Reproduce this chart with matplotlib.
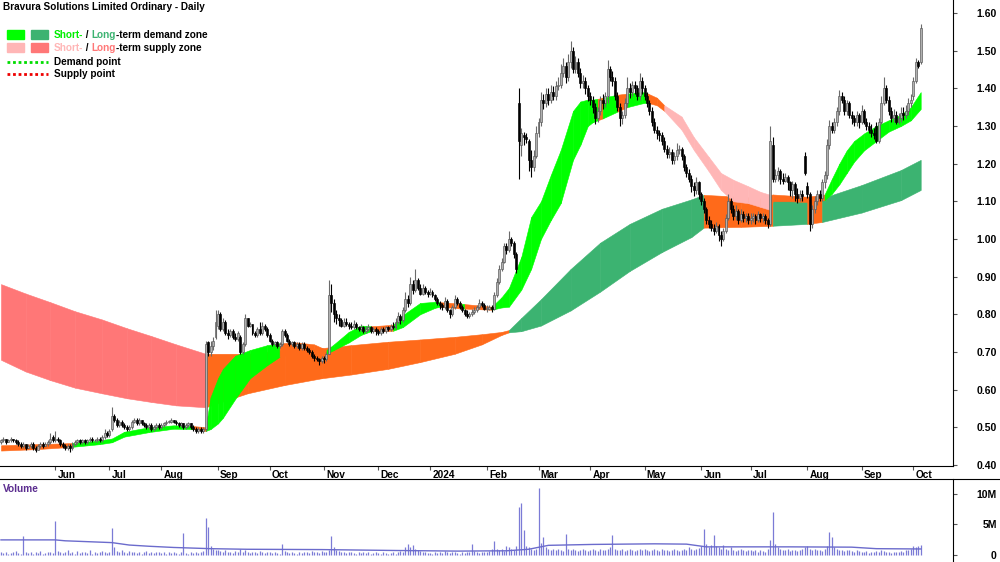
import numpy as np
import pandas as pd
import matplotlib
matplotlib.use("Agg")
import matplotlib.pyplot as plt
from matplotlib.patches import Rectangle
from matplotlib.lines import Line2D

plt.rcParams["font.family"] = ["Liberation Sans", "DejaVu Sans"]

# trading days shown on the chart
dates = pd.bdate_range("2023-05-02", "2024-10-04")

# daily prices in cents, one line per month (May 2023 ... Oct 2024)
opens = [
    46, 46.5, 47, 46, 46.5, 47, 46.5, 46, 45.5, 45, 45.5, 44.5, 45, 45.5, 44.5, 44, 45, 45.5, 45, 45.5, 46, 47.5,
    46.5, 47, 46.5, 45.5, 45, 44.5, 45, 44.5, 45.5, 46, 46.5, 46, 46.5, 46, 46.5, 47, 46.5, 46.5, 47, 46.5, 47.5, 48.5,
    48, 49.5, 53, 52, 50.5, 51.5, 50.5, 50, 49.5, 50, 51.5, 52, 51, 52, 51, 50.5, 50, 50.5, 49.5, 50, 50.5,
    50, 50.5, 51, 51.5, 51.5, 52, 51.5, 51, 50.5, 51, 50, 50.5, 51, 50, 49.5, 49, 49.5, 49, 49.5, 72.5, 70, 71.5, 74,
    77, 80, 76, 78, 75, 74.5, 75.5, 74, 73.5, 74, 70, 72, 79, 77, 77.5, 75, 74.5, 76, 75, 77, 76,
    74.5, 73, 72, 72.5, 71.5, 72, 75.5, 74.5, 73, 72, 72.5, 71.5, 72, 71, 72, 71, 70.5, 70, 69, 68.5, 68, 67.5,
    68.5, 68, 69.5, 85, 83, 80, 79, 78.5, 77, 78, 77.5, 77, 76.5, 77.5, 76.5, 76, 76.5, 75.5, 76, 76.5, 75.5, 76,
    75.5, 75, 76, 75.5, 76.5, 76, 77, 76.5, 78, 79.5, 78.5, 81, 84, 83, 88, 86.5, 89, 87, 85.5, 87, 86,
    85.5, 86, 85, 84, 83, 82.5, 82, 83.5, 81, 80, 82, 84, 83, 82, 81, 80, 79.5, 80, 80.5, 81, 82, 83, 82.5,
    81.5, 81.5, 82, 81.5, 85, 88.5, 92, 94, 98, 97, 100, 99, 96, 136, 125, 127.5, 127, 126, 121, 119, 122,
    128, 131, 137, 136, 138.5, 137, 139, 138, 140.5, 141, 144, 146, 143, 147, 150, 145, 147, 144, 141.5, 142, 140,
    138, 137, 135, 132, 134, 137, 136, 138, 145, 143, 142, 138, 135, 132, 133, 136, 140, 139, 141, 140, 138, 142,
    140, 138, 136, 134, 131, 129, 128, 127.5, 126, 124, 122.5, 123, 121, 122, 123.5, 124, 122, 119, 117.5, 116, 114, 113, 115,
    112, 110, 108, 105, 104, 103, 102, 103.5, 101, 100, 102, 105.5, 110, 108, 106, 107.5, 105, 106.5, 105.5, 106,
    105, 105.5, 106, 105, 106.5, 105.5, 106, 105, 104, 125, 116, 117, 118, 116, 115.5, 116.5, 115, 113, 114.5, 112, 111, 112, 122,
    114, 112, 104, 108, 110, 112, 111, 115, 117, 125, 130, 129, 131, 134, 138, 137, 134, 136, 133, 132, 131, 133,
    131, 134, 131, 130, 129, 128, 130, 126, 131, 136, 140, 137, 134, 132, 133, 131, 132, 133.5, 133, 134, 136,
    138, 142, 147, 147,
]
highs = [
    47, 47.5, 47, 47, 47.5, 47, 47, 46.5, 46, 46, 45.5, 45.5, 46, 46, 45, 45.5, 46, 46, 46, 46.5, 48.5, 48,
    49, 47.5, 47, 46, 45.5, 45.5, 45.5, 46, 46.5, 47, 47, 47, 47, 47, 47.5, 47.5, 47, 47.5, 47.5, 48, 49.5, 49,
    49.5, 55.5, 53.5, 52.5, 52, 52, 51, 50.5, 50.5, 52, 52.5, 52.5, 52.5, 52, 51.5, 51, 51, 51, 50.5, 51, 51,
    51, 51.5, 52, 52, 52.5, 52, 52, 51.5, 51.5, 51, 51, 51.5, 51, 50.5, 50, 50, 50, 50, 73, 73, 73, 74, 81,
    81, 80.5, 79, 78.5, 76, 76, 76, 75, 75.5, 74.5, 72.5, 80, 79, 78, 77.5, 75.5, 76.5, 78, 78, 77.5, 76.5,
    75, 73.5, 73, 73, 72.5, 76, 76, 75, 73.5, 73, 73, 72.5, 72.5, 72.5, 72.5, 71.5, 71, 70.5, 69.5, 69, 68.5, 69,
    69, 70, 89, 88, 84, 81, 80, 79, 79, 79, 78, 78, 78.5, 78, 77, 77.5, 77, 77, 77.5, 77, 76.5, 76.5,
    76, 76.5, 76.5, 77, 77, 77.5, 78, 79, 80.5, 80, 82, 86, 85, 90, 89, 92, 89.5, 88, 88, 87.5, 86.5,
    87, 86.5, 85.5, 84.5, 83.5, 83, 84.5, 84, 81.5, 82.5, 85, 84.5, 83.5, 82.5, 81.5, 81, 80.5, 81.5, 82, 82.5, 84, 83.5, 83,
    82.5, 82.5, 82.5, 86, 89.5, 93, 95, 99, 99, 102, 100.5, 99.5, 96.5, 140, 129.5, 128.5, 128, 126.5, 123.5, 123.5, 130,
    132, 139, 138.5, 140, 140, 141, 140.5, 142, 143, 146.5, 148, 147, 149, 152.5, 151, 148.5, 148, 145.5, 143.5, 143, 141,
    139, 138, 136, 135, 138, 138.5, 139, 147.5, 146, 144.5, 143, 139, 136, 134, 137.5, 143, 141.5, 142, 142, 141, 144, 143,
    141, 139, 137, 135, 132, 130, 129, 128.5, 127, 125, 124.5, 124, 123, 125.5, 125, 124.5, 122.5, 120, 118.5, 117, 115, 116.5, 115.5,
    112.5, 111, 108.5, 106, 105, 104, 104.5, 104, 102, 103, 106.5, 112, 111, 109, 109, 108, 108, 107.5, 107, 107,
    107, 107, 106.5, 107.5, 107, 107, 106.5, 105.5, 130, 127, 118.5, 119, 118.5, 117.5, 117.5, 117, 115.5, 115.5, 115, 113.5, 113, 113, 123,
    115, 112.5, 109, 111.5, 113, 113, 116, 118, 126.5, 131.5, 131, 132, 135, 139.5, 139, 138, 137, 136.5, 134, 133, 134, 133.5,
    135.5, 134.5, 132, 131, 130.5, 129.5, 131, 132, 138, 143, 141, 138, 135, 134.5, 134, 133.5, 135, 135, 135.5, 137.5, 138.5,
    143, 148, 147.5, 157,
]
lows = [
    45.5, 46, 45.5, 46, 46, 46, 45.5, 45, 44.5, 44.5, 44, 44.5, 44.5, 44, 43.5, 44, 44.5, 44.5, 45, 45, 45.5, 46,
    46, 46, 45, 44.5, 44, 44, 43.5, 44, 45, 45.5, 45.5, 45.5, 45.5, 45.5, 46, 46, 46, 46, 46, 46, 47, 47.5,
    47.5, 49, 51.5, 50, 50, 50, 49.5, 49, 49, 49.5, 51, 50.5, 50.5, 50.5, 50, 49.5, 49.5, 49, 49, 49.5, 49.5,
    49.5, 50, 50.5, 51, 51, 51, 50.5, 50, 50, 49.5, 49.5, 50, 49.5, 49, 48.5, 48.5, 48.5, 48.5, 49, 69, 69, 70.5, 73.5,
    76, 75.5, 75.5, 74.5, 73.5, 74, 73.5, 73, 73, 69.5, 69.5, 71.5, 76.5, 76.5, 74.5, 74, 74, 74.5, 74.5, 75.5, 74,
    72.5, 71.5, 71.5, 71, 71, 71.5, 74, 72.5, 71.5, 71.5, 71, 71, 70.5, 70.5, 70.5, 70, 69.5, 68.5, 67.5, 67.5, 66.5, 67,
    67, 67.5, 69.5, 80.5, 78, 77.5, 77, 76.5, 76.5, 77, 76, 76, 76, 76, 75.5, 75.5, 75, 75, 75.5, 75, 75, 74.5,
    74.5, 74.5, 75, 75, 75.5, 75.5, 76, 76, 77.5, 77.5, 78, 80.5, 82, 82.5, 85.5, 86, 86.5, 85, 85, 85.5, 84.5,
    85, 84.5, 83.5, 82.5, 81.5, 81, 81.5, 80.5, 79, 79.5, 81.5, 82.5, 81.5, 80.5, 79.5, 79, 79, 79.5, 80, 80.5, 81.5, 82, 81,
    80.5, 81, 80.5, 81, 84.5, 88, 91.5, 93.5, 96, 96.5, 98, 95, 91, 116, 122, 125, 125.5, 118, 116.5, 118, 121.5,
    127, 130, 134.5, 135, 135.5, 136, 137, 137, 139.5, 140, 143, 141.5, 142, 145.5, 144, 144, 143, 140, 140, 138.5, 136.5,
    135.5, 133.5, 130.5, 131, 133, 134.5, 135, 136, 142, 140.5, 137, 134, 130, 130.5, 132, 135, 137.5, 138, 138.5, 137, 137, 138.5,
    137, 135, 133, 130, 128, 126.5, 126, 125, 123, 121.5, 121.5, 120, 120, 121, 122.5, 121, 118, 116.5, 115, 112.5, 111.5, 112, 110.5,
    109, 107, 104, 103, 102, 101, 101.5, 99.5, 98, 99.5, 101.5, 105, 107, 105, 105, 104, 104.5, 104.5, 104.5, 104,
    104, 104.5, 104, 104.5, 104.5, 104.5, 104, 103, 103.5, 115, 115, 115.5, 114.5, 114.5, 115, 113, 111.5, 111, 110, 109.5, 110, 110, 117,
    111, 102, 103, 107, 109, 110, 110, 113.5, 116, 124, 128, 128, 130, 133, 136, 133, 133, 132, 130.5, 130, 130, 129.5,
    130.5, 130.5, 129, 128, 127, 126.5, 125.5, 125.5, 130.5, 135.5, 136, 133, 131, 131, 130.5, 130.5, 131, 131.5, 132, 133, 135,
    137, 141.5, 145.5, 146.5,
]
closes = [
    46.5, 47, 46, 46.5, 47, 46.5, 46, 45.5, 45, 45.5, 44.5, 45, 45.5, 44.5, 44, 45, 45.5, 45, 45.5, 46, 47, 46.5,
    47, 46.5, 45.5, 45, 44.5, 45, 44.5, 45.5, 46, 46.5, 46, 46.5, 46, 46.5, 47, 46.5, 46.5, 47, 46.5, 47.5, 48.5, 48,
    49, 53, 52, 50.5, 51.5, 50.5, 50, 49.5, 50, 51.5, 52, 51, 52, 51, 50.5, 50, 50.5, 49.5, 50, 50.5, 50,
    50.5, 51, 51.5, 51.5, 52, 51.5, 51, 50.5, 51, 50, 50.5, 51, 50, 49.5, 49, 49.5, 49, 49.5, 72, 70, 71.5, 73, 78,
    80, 76, 78, 75, 74.5, 75.5, 74, 73.5, 75, 70, 72, 79, 77, 77.5, 75, 74.5, 76, 75, 77, 76, 74.5,
    73, 72, 72.5, 71.5, 72, 75.5, 74.5, 73, 72, 72.5, 71.5, 72, 71, 72, 71, 70.5, 70, 69, 68.5, 68, 67.5, 68.5,
    68, 69.5, 85, 83, 80, 79, 78.5, 77, 78, 77.5, 77, 76.5, 77.5, 76.5, 76, 76.5, 75.5, 76, 76.5, 75.5, 76, 75.5,
    75, 76, 75.5, 76.5, 76, 77, 76.5, 78, 79.5, 78.5, 81, 84, 83, 88, 86.5, 89, 87, 85.5, 87, 86, 85.5,
    86, 85, 84, 83, 82.5, 82, 83.5, 81, 80, 82, 84, 83, 82, 81, 80, 79.5, 80, 80.5, 81, 82, 83, 82.5, 81.5,
    81.5, 82, 81.5, 85, 88.5, 92, 94, 98, 97, 100, 99, 96, 92, 126, 128, 127, 126.5, 121, 119, 122, 128,
    131, 137, 136, 138.5, 137, 139, 138, 140.5, 141, 144, 146, 143, 147, 150, 145, 147, 144, 141.5, 142, 140, 138,
    137, 135, 132, 134, 137, 136, 138, 145, 143, 142, 138, 135, 132, 133, 136, 140, 139, 141, 140, 138, 142, 140,
    138, 136, 134, 131, 129, 128, 127.5, 126, 124, 122.5, 123, 121, 122, 123.5, 124, 122, 119, 117.5, 116, 114, 113, 115, 112,
    110, 108, 105, 104, 103, 102, 103.5, 101, 100, 102, 105.5, 110, 108, 106, 107.5, 105, 106.5, 105.5, 106, 105,
    105.5, 106, 105, 106.5, 105.5, 106, 105, 104, 126, 116, 117, 118, 116, 115.5, 116.5, 115, 113, 114.5, 112, 111, 112, 111.5, 117.5,
    112, 104, 108, 110, 112, 111, 115, 117, 125, 130, 129, 131, 134, 138, 137, 134, 136, 133, 132, 131, 133, 131,
    134, 131, 130, 129, 128, 127.5, 126, 131, 136, 140, 137, 134, 132, 133, 131, 132, 133.5, 133, 134, 136, 137,
    142, 147, 146, 156,
]

# daily volume in units of 0.1M shares
volume = [
    4, 3, 5, 2, 3, 4, 6, 3, 2, 31, 4, 3, 5, 2, 4, 3, 6, 2, 3, 4, 5, 3,
    55, 6, 4, 3, 5, 8, 3, 4, 2, 6, 3, 5, 4, 3, 7, 2, 4, 3, 5, 6, 4, 3,
    5, 44, 12, 6, 5, 8, 4, 3, 6, 5, 4, 3, 5, 2, 4, 6, 3, 4, 3, 5, 4,
    3, 4, 2, 5, 3, 4, 3, 2, 4, 36, 3, 2, 4, 3, 5, 3, 4, 6, 61, 45, 15, 9, 7,
    8, 6, 5, 7, 4, 5, 3, 6, 4, 9, 5, 8, 4, 3, 5, 4, 3, 6, 4, 3, 5,
    4, 3, 5, 3, 2, 18, 6, 4, 3, 5, 3, 2, 4, 3, 5, 4, 3, 6, 5, 4, 3, 6,
    5, 4, 8, 31, 12, 8, 6, 5, 4, 3, 5, 4, 3, 2, 4, 3, 5, 3, 4, 2, 3, 4,
    3, 2, 4, 3, 2, 3, 4, 2, 5, 6, 4, 13, 17, 12, 16, 10, 8, 6, 5, 4, 3,
    3, 2, 4, 3, 5, 3, 6, 4, 3, 5, 4, 3, 2, 4, 3, 5, 4, 18, 6, 4, 3, 5, 4,
    5, 6, 9, 23, 10, 8, 9, 6, 15, 12, 9, 8, 14, 78, 85, 40, 15, 12, 10, 8, 9,
    110, 20, 30, 12, 9, 8, 10, 7, 9, 8, 6, 35, 9, 8, 10, 7, 6, 8, 9, 7, 6,
    8, 9, 7, 6, 10, 8, 7, 9, 12, 33, 10, 8, 7, 9, 6, 8, 10, 7, 6, 8, 9, 7,
    9, 7, 6, 8, 10, 7, 6, 9, 8, 7, 6, 8, 10, 7, 6, 8, 9, 7, 12, 9, 8, 10, 11,
    14, 43, 18, 12, 16, 33, 15, 12, 10, 16, 9, 8, 12, 7, 6, 8, 9, 7, 6, 8,
    7, 6, 8, 5, 7, 6, 5, 9, 25, 70, 18, 12, 10, 8, 7, 9, 6, 8, 7, 6, 8, 9, 12,
    14, 10, 8, 9, 7, 8, 6, 10, 15, 38, 30, 12, 9, 8, 7, 6, 8, 7, 6, 5, 7, 6,
    5, 4, 6, 3, 5, 4, 6, 5, 7, 6, 4, 5, 3, 4, 5, 4, 6, 5, 7, 8, 9,
    15, 12, 14, 16,
]

# volume average line (millions), read at a few days
vol_avg_idx = [0, 22, 26, 45, 52, 60, 70, 85, 100, 130, 160, 185, 205, 214, 222, 240, 265, 278, 286, 320, 345, 355, 373]
vol_avg = [2.45, 2.45, 2.3, 2.0, 1.6, 1.4, 1.2, 1.0, 0.9, 0.85, 0.7, 0.6, 0.65, 0.9, 1.55, 1.7, 1.8, 1.75, 1.3, 1.3, 1.25, 1.0, 0.95]

# short-term zone: day index, lower / upper edge, state of the stretch that follows
st_idx = [0, 15, 29, 40, 45, 50, 60, 70, 78, 83, 85, 88, 90, 95, 101, 108, 113, 120, 127, 132, 135, 141, 146,
          150, 159, 163, 170, 176, 178, 187, 188, 199, 203, 206, 211, 215, 219, 223, 227, 232, 235, 238, 240,
          242, 244, 250, 254, 260, 262, 266, 269, 276, 281, 287, 292, 297, 303, 308, 312, 313, 320, 327, 334,
          337, 340, 343, 346, 350, 355, 360, 365, 369, 373]
st_lo = [0.438, 0.442, 0.448, 0.455, 0.46, 0.475, 0.487, 0.496, 0.495, 0.49, 0.495, 0.51, 0.525, 0.575, 0.63,
         0.665, 0.687, 0.70, 0.70, 0.695, 0.705, 0.725, 0.745, 0.755, 0.756, 0.766, 0.80, 0.817, 0.82, 0.815,
         0.815, 0.812, 0.818, 0.82, 0.865, 0.92, 1.0, 1.05, 1.095, 1.21, 1.25, 1.30, 1.31, 1.315, 1.32, 1.338,
         1.35, 1.36, 1.362, 1.355, 1.34, 1.29, 1.236, 1.18, 1.13, 1.10, 1.095, 1.085, 1.077, 1.10, 1.10, 1.098,
         1.103, 1.12, 1.145, 1.175, 1.205, 1.235, 1.26, 1.285, 1.30, 1.315, 1.345]
st_hi = [0.452, 0.455, 0.458, 0.465, 0.47, 0.488, 0.50, 0.505, 0.503, 0.50, 0.58, 0.63, 0.655, 0.69, 0.705,
         0.718, 0.723, 0.725, 0.72, 0.705, 0.72, 0.753, 0.77, 0.768, 0.772, 0.798, 0.83, 0.833, 0.832, 0.828,
         0.827, 0.82, 0.845, 0.87, 0.952, 1.058, 1.10, 1.17, 1.236, 1.34, 1.365, 1.37, 1.37, 1.372, 1.375, 1.383,
         1.386, 1.39, 1.387, 1.375, 1.355, 1.325, 1.27, 1.218, 1.175, 1.157, 1.14, 1.125, 1.117, 1.118, 1.115,
         1.112, 1.118, 1.16, 1.20, 1.235, 1.26, 1.28, 1.30, 1.315, 1.33, 1.35, 1.39]
st_state = ["n", "n", "d", "d", "d", "d", "d", "d", "n", "d", "d", "d", "d", "d", "d", "d", "n", "n", "n", "d",
            "d", "d", "d", "n", "d", "d", "d", "d", "n", "d", "n", "d", "d", "d", "d", "d", "d", "d", "d", "d",
            "d", "d", "d", "n", "d", "n", "d", "d", "n", "n", "s", "s", "s", "s", "s", "s", "s", "s", "n", "n",
            "n", "n", "d", "d", "d", "d", "d", "d", "d", "d", "d", "d", "d"]

# long-term zone
lt_idx = [0, 10, 20, 30, 41, 51, 61, 71, 83, 100, 115, 130, 142, 157, 170, 184, 195, 203, 206, 211, 219, 231,
          243, 255, 268, 280, 285, 300, 313, 327, 333, 349, 365, 373]
lt_lo = [0.679, 0.648, 0.625, 0.605, 0.59, 0.577, 0.567, 0.558, 0.553, 0.59, 0.612, 0.63, 0.64, 0.655, 0.673,
         0.695, 0.72, 0.745, 0.752, 0.755, 0.77, 0.81, 0.86, 0.915, 0.965, 1.005, 1.03, 1.032, 1.035, 1.04,
         1.045, 1.07, 1.103, 1.13]
lt_hi = [0.88, 0.855, 0.832, 0.808, 0.786, 0.763, 0.742, 0.72, 0.695, 0.695, 0.705, 0.71, 0.718, 0.727, 0.733,
         0.74, 0.747, 0.753, 0.758, 0.79, 0.84, 0.92, 0.99, 1.04, 1.08, 1.105, 1.117, 1.112, 1.105, 1.105, 1.108,
         1.143, 1.183, 1.21]
lt_state = ["s", "s", "s", "s", "s", "s", "s", "s", "n", "n", "n", "n", "n", "n", "n", "n", "n", "n", "d", "d",
            "d", "d", "d", "d", "d", "d", "n", "n", "d", "n", "d", "d", "d", "d"]

ST_COLORS = {"d": "#00ff00", "s": "#ffb6b6", "n": "#ff6a1a"}
LT_COLORS = {"d": "#3cb371", "s": "#ff7777", "n": "#ff6a1a"}

month_names = {1: "2024", 2: "Feb", 3: "Mar", 4: "Apr", 5: "May", 6: "Jun", 7: "Jul",
               8: "Aug", 9: "Sep", 10: "Oct", 11: "Nov", 12: "Dec"}


def draw_zone(ax, idx, lo, hi, state, colors, z):
    for k in range(len(idx) - 1):
        c = colors[state[k]]
        ax.fill_between(idx[k:k + 2], lo[k:k + 2], hi[k:k + 2], facecolor=c,
                        edgecolor=c, lw=0.4, zorder=z)


def draw_candles(ax, o, h, l, c):
    x = np.arange(len(c))
    up = c >= o
    dn = ~up
    ax.vlines(x[up], l[up], h[up], color="#6a6a6a", lw=0.8, zorder=4)
    ax.vlines(x[dn], l[dn], h[dn], color="black", lw=0.8, zorder=4)
    body = np.abs(c - o)
    body = np.where(body < 0.002, 0.002, body)
    bottom = np.minimum(o, c)
    ax.bar(x[up], body[up], bottom=bottom[up], width=0.8, color="#b0b0b0",
           edgecolor="#555555", lw=0.45, zorder=5)
    ax.bar(x[dn], body[dn], bottom=bottom[dn], width=0.8, color="black",
           edgecolor="black", lw=0.45, zorder=5)


def color_text(ax, fig, x, y, pieces, **kw):
    t = fig.text(x, y, pieces[0][0], color=pieces[0][1], va="bottom", **kw)
    for s, col in pieces[1:]:
        t = ax.annotate(s, xy=(1, 0), xycoords=t, color=col, va="bottom", ha="left",
                        annotation_clip=False, **kw)
    return t


def right_ticks(ax, ticks, labels):
    ax.set_yticks(ticks)
    ax.set_yticklabels(labels, fontweight="bold", fontsize=7.5)
    ax.yaxis.tick_right()
    ax.tick_params(axis="y", direction="out", length=3, pad=28.5, color="#555555")
    for lbl in ax.get_yticklabels():
        lbl.set_horizontalalignment("right")


def main():
    o = np.array(opens) / 100.0
    h = np.array(highs) / 100.0
    l = np.array(lows) / 100.0
    c = np.array(closes) / 100.0
    v = np.array(volume) / 10.0
    n = len(c)
    assert n == len(dates) == len(o) == len(h) == len(l) == len(v)

    W, H = 1000, 562
    fig = plt.figure(figsize=(W / 100, H / 100), dpi=100)
    ax = fig.add_axes([0, 1 - 466 / H, 953 / W, 466 / H])
    vax = fig.add_axes([0, 0, 953 / W, 83 / H])

    xlim = (-0.4, 386.1)

    # price panel
    draw_zone(ax, lt_idx, lt_lo, lt_hi, lt_state, LT_COLORS, 1)
    draw_zone(ax, st_idx, st_lo, st_hi, st_state, ST_COLORS, 2)
    draw_candles(ax, o, h, l, c)

    ax.set_xlim(*xlim)
    ax.set_ylim(0.397, 1.6345)
    ticks = np.round(np.arange(0.4, 1.61, 0.1), 2)
    right_ticks(ax, ticks, [f"{t:.2f}" for t in ticks])

    months = dates.month
    starts = [i for i in range(1, n) if months[i] != months[i - 1]]
    ax.set_xticks(starts)
    ax.tick_params(axis="x", direction="out", length=3, labelbottom=False, color="#555555")
    for i in starts:
        ax.text(i + 0.9, -9 / 466, month_names[dates[i].month], transform=ax.get_xaxis_transform(),
                ha="left", va="center", fontsize=7.3, fontweight="bold")

    for side in ["left", "top"]:
        ax.spines[side].set_visible(False)
    for side in ["right", "bottom"]:
        ax.spines[side].set_linewidth(0.8)

    # volume panel
    vax.vlines(np.arange(n), 0, v, color="#7b7bd6", lw=0.9)
    vax.plot(vol_avg_idx, vol_avg, color="#6b6bcc", lw=1.0)
    vax.set_xlim(*xlim)
    vax.set_ylim(-1.2, 12.5)
    right_ticks(vax, [0, 5, 10], ["0", "5M", "10M"])
    vax.set_xticks([])
    for side in ["left", "bottom", "top"]:
        vax.spines[side].set_visible(False)
    vax.spines["right"].set_linewidth(0.8)
    fig.add_artist(Line2D([0, 1], [1 - 479 / H, 1 - 479 / H], color="black", lw=0.8,
                          transform=fig.transFigure))
    fig.text(3 / W, 1 - 489 / H, "Volume", color="#5b2d8f", fontsize=7.3, fontweight="bold",
             va="center")

    # title and legend
    kw = dict(fontsize=7.2, fontweight="bold")
    fig.text(3 / W, 1 - 7 / H, "Bravura Solutions Limited Ordinary - Daily", va="center", **kw)
    squares = [(7, 30, "#00ff00"), (31, 30, "#3cb371"), (7, 43, "#ffb6b6"), (31, 43, "#ff7777")]
    for x0, y0, col in squares:
        fig.add_artist(Rectangle((x0 / W, 1 - (y0 + 9) / H), 17 / W, 9 / H, color=col,
                                 transform=fig.transFigure))
    for y0, col in [(62, "#00dd00"), (74, "#ee0000")]:
        fig.add_artist(Line2D([7 / W, 48 / W], [1 - y0 / H, 1 - y0 / H], color=col, lw=2,
                              linestyle=(0, (1, 1)), transform=fig.transFigure))

    color_text(ax, fig, 54 / W, 1 - 40 / H, [("Short-", "#00ee00"), (" / ", "black"),
                                             ("Long", "#3cb371"), ("-term demand zone", "black")], **kw)
    color_text(ax, fig, 54 / W, 1 - 53 / H, [("Short-", "#ffb6b6"), (" / ", "black"),
                                             ("Long", "#ff7777"), ("-term supply zone", "black")], **kw)
    fig.text(54 / W, 1 - 62 / H, "Demand point", va="center", **kw)
    fig.text(54 / W, 1 - 74 / H, "Supply point", va="center", **kw)

    fig.savefig("out.png", dpi=100)


if __name__ == "__main__":
    main()
